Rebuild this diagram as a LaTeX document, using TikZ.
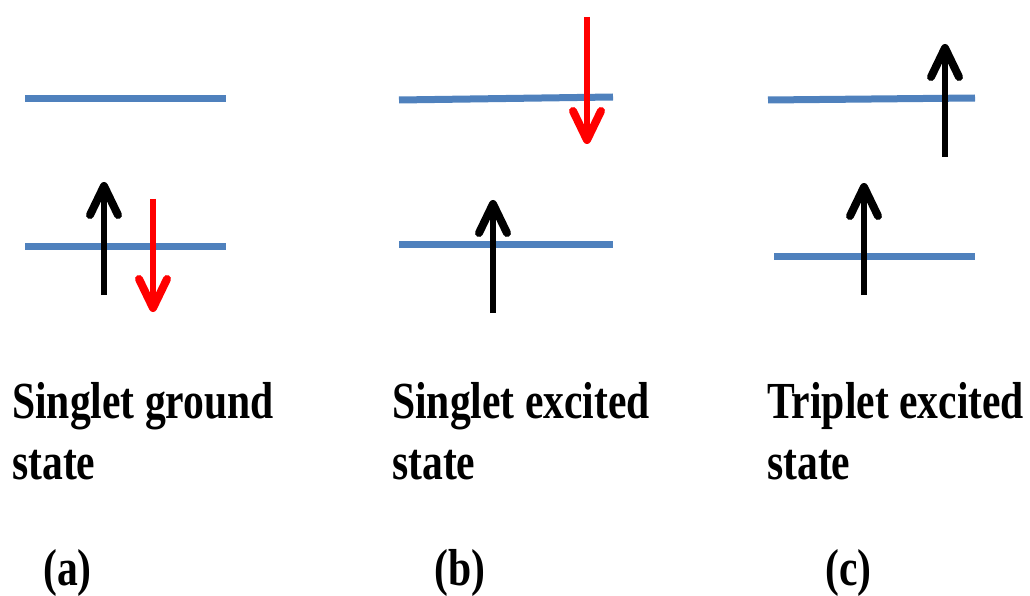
\documentclass[tikz,border=0pt]{standalone}
\usepackage{fontspec}
\setmainfont{Liberation Serif}[FakeStretch=0.80]
\usetikzlibrary{arrows.meta}
\definecolor{levelblue}{RGB}{79,129,189}
\begin{document}
\begin{tikzpicture}[x=1pt,y=-1pt,
  level/.style={draw=levelblue,line width=7pt},
  spin/.style={line width=6pt,-{Straight Barb[length=29pt,width=28pt,round,line width=8pt 0]}},
  upspin/.style={spin,draw=black},
  downspin/.style={spin,draw=red},
  lbl/.style={anchor=base west,inner sep=0pt,font=\fontsize{52}{61}\selectfont\bfseries},
  tag/.style={anchor=base west,inner sep=0pt,font=\fontsize{52}{60}\selectfont\bfseries}]
\useasboundingbox (0,0) rectangle (1030,596);
% (a) singlet ground state
\coordinate (a1l) at (25,99);  \coordinate (a1r) at (226,99);
\coordinate (a0l) at (25,246); \coordinate (a0r) at (226,246);
\draw[level] (a1l) -- (a1r);
\draw[level] (a0l) -- (a0r);
\coordinate (aus) at (104,295); \coordinate (aue) at (104,182);
\coordinate (ads) at (153,199); \coordinate (ade) at (153,312);
\draw[upspin] (aus) -- (aue);
\draw[downspin] (ads) -- (ade);
% (b) singlet excited state
\coordinate (b1l) at (399,100); \coordinate (b1r) at (613,97);
\coordinate (b0l) at (399,244); \coordinate (b0r) at (613,244);
\draw[level] (b1l) -- (b1r);
\draw[level] (b0l) -- (b0r);
\coordinate (bds) at (587,17);  \coordinate (bde) at (587,144);
\coordinate (bus) at (493,313); \coordinate (bue) at (493,200);
\draw[downspin] (bds) -- (bde);
\draw[upspin] (bus) -- (bue);
% (c) triplet excited state
\coordinate (c1l) at (768,100); \coordinate (c1r) at (975,98);
\coordinate (c0l) at (774,256); \coordinate (c0r) at (975,256);
\draw[level] (c1l) -- (c1r);
\draw[level] (c0l) -- (c0r);
\coordinate (cus) at (945,157); \coordinate (cue) at (945,44);
\coordinate (cls) at (864,295); \coordinate (cle) at (864,183);
\draw[upspin] (cus) -- (cue);
\draw[upspin] (cls) -- (cle);
% labels
\node[lbl] (la1) at (12,418) {Singlet ground};
\node[lbl] (la2) at (12,479) {state};
\node[lbl] (lb1) at (392,418) {Singlet excited};
\node[lbl] (lb2) at (392,479) {state};
\node[lbl] (lc1) at (767,418) {Triplet excited};
\node[lbl] (lc2) at (767,479) {state};
\node[tag] (ta) at (43,585) {(a)};
\node[tag] (tb) at (434,585) {(b)};
\node[tag] (tc) at (825,585) {(c)};
\end{tikzpicture}
\end{document}
